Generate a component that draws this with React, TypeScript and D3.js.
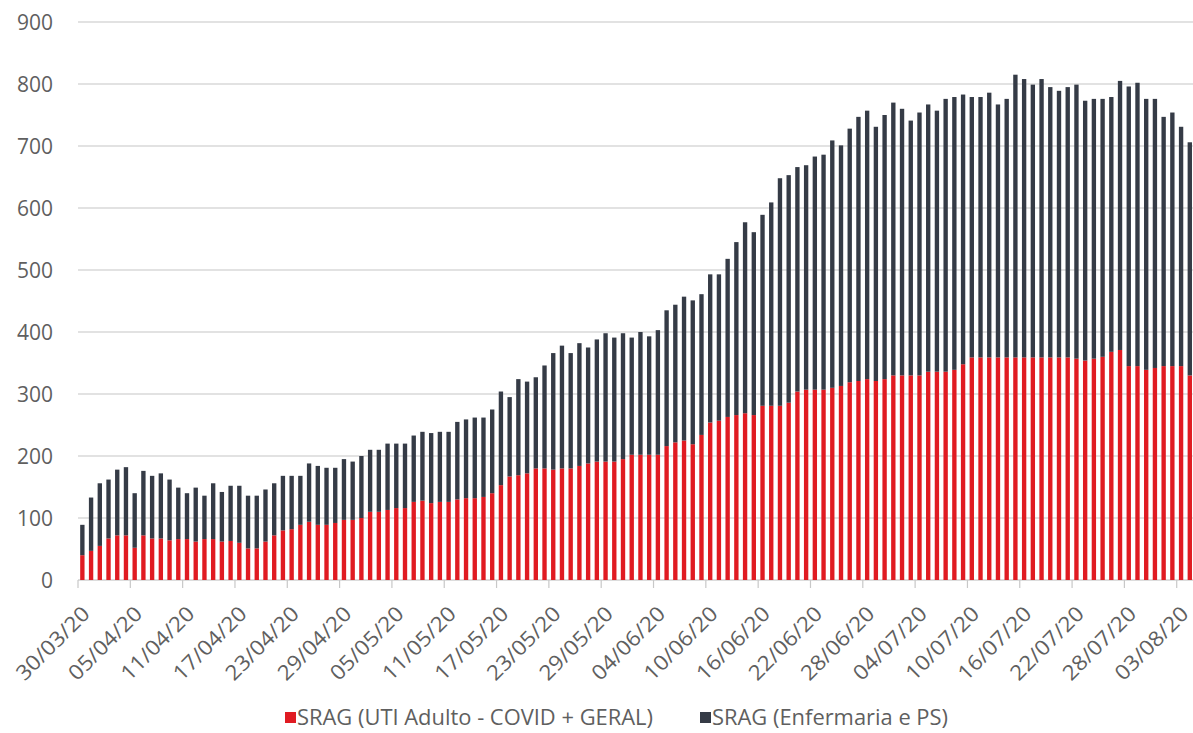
import React from "react";
import * as d3 from "d3";

const START_DATE = "2020-03-30";
const N_DAYS = 128;

const tickLabels = [
  "30/03/20", "05/04/20", "11/04/20", "17/04/20", "23/04/20", "29/04/20", "05/05/20",
  "11/05/20", "17/05/20", "23/05/20", "29/05/20", "04/06/20", "10/06/20", "16/06/20",
  "22/06/20", "28/06/20", "04/07/20", "10/07/20", "16/07/20", "22/07/20", "28/07/20", "03/08/20",
];

const yTicks = [0, 100, 200, 300, 400, 500, 600, 700, 800, 900];

// SRAG (UTI Adulto - COVID + GERAL)
const utiAdulto = [
  40, 47, 55, 67, 72, 72, 52, 72, 67, 67, 64, 66, 66, 62, 66, 66, 62, 63, 60, 51,
  51, 62, 72, 80, 82, 89, 94, 89, 89, 92, 97, 97, 100, 110, 110, 113, 116, 116, 126, 128,
  124, 126, 126, 130, 132, 132, 134, 140, 153, 167, 169, 172, 180, 180, 178, 180, 180, 184, 188, 191,
  191, 191, 195, 202, 202, 202, 202, 216, 222, 225, 219, 234, 254, 257, 263, 266, 269, 266, 281, 281,
  281, 286, 304, 307, 307, 307, 310, 313, 319, 321, 324, 321, 324, 330, 330, 330, 330, 336, 336, 336,
  339, 348, 359, 359, 359, 359, 359, 359, 359, 359, 359, 359, 359, 359, 357, 354, 357, 360, 368, 371,
  345, 345, 339, 342, 345, 345, 345, 330,
];

// SRAG (Enfermaria e PS)
const enfermariaPS = [
  49, 86, 101, 95, 106, 110, 88, 104, 101, 105, 98, 83, 74, 87, 70, 90, 80, 89, 92, 85,
  85, 84, 84, 88, 86, 79, 94, 95, 92, 89, 98, 94, 100, 100, 100, 107, 104, 104, 107, 111,
  113, 113, 113, 125, 127, 130, 128, 135, 151, 128, 155, 148, 147, 166, 188, 198, 186, 198, 187, 197,
  207, 200, 203, 189, 198, 191, 201, 219, 222, 232, 232, 227, 239, 236, 255, 279, 308, 295, 308, 328,
  367, 367, 362, 362, 376, 379, 399, 388, 409, 426, 433, 410, 426, 440, 430, 411, 424, 431, 421, 440,
  440, 435, 420, 420, 427, 408, 417, 456, 449, 440, 449, 436, 430, 436, 442, 419, 419, 416, 411, 434,
  451, 457, 437, 434, 402, 409, 386, 376,
];

const seriesNames = ["SRAG (UTI Adulto - COVID + GERAL)", "SRAG (Enfermaria e PS)"];
const colors = ["#e01b22", "#353b46"];

const W = 1193;
const H = 733;
const plotLeft = 78;
const plotRight = 78 + 8.72 * N_DAYS;
const plotTop = 22;
const plotBottom = 580;
const FONT = "'Open Sans', 'Noto Sans', sans-serif";
const TEXT = "#5f5f5f";

export default function App() {
  const start = d3.timeParse("%Y-%m-%d")(START_DATE) as Date;
  const dates = d3.timeDay.range(start, d3.timeDay.offset(start, N_DAYS));
  const fmt = d3.timeFormat("%d/%m/%y");
  const cats = dates.map((d) => fmt(d));

  const x = d3
    .scaleBand<string>()
    .domain(cats)
    .range([plotLeft, plotRight])
    .paddingInner(0.5)
    .paddingOuter(0.25);
  const y = d3.scaleLinear().domain([0, 900]).range([plotBottom, plotTop]);

  const step = x.step();
  const bw = x.bandwidth();
  const catLeft = (c: string) => (x(c) as number) - (step - bw) / 2;

  const stack = d3
    .stack<number>()
    .keys(["uti", "enf"])
    .value((i, key) => (key === "uti" ? utiAdulto[i] : enfermariaPS[i]));
  const layers = stack(d3.range(N_DAYS));

  return (
    <svg
      width={W}
      height={H}
      style={{ position: "absolute", left: 0, top: 0, background: "#ffffff" }}
      fontFamily={FONT}
    >
      <rect x={0} y={0} width={W} height={H} fill="#ffffff" />
      {yTicks.map((t) => (
        <line
          key={"g" + t}
          x1={plotLeft}
          x2={W}
          y1={y(t)}
          y2={y(t)}
          stroke={t === 0 ? "#d0d0d0" : "#d9d9d9"}
          strokeWidth={1.3}
        />
      ))}
      {yTicks.map((t) => (
        <text
          key={"yl" + t}
          x={53}
          y={y(t)}
          dy="0.36em"
          textAnchor="end"
          fontSize={21}
          fill={TEXT}
        >
          {t}
        </text>
      ))}
      {layers.map((layer, li) =>
        layer.map((d, i) => (
          <rect
            key={li + "-" + i}
            x={x(cats[i])}
            width={bw}
            y={y(d[1])}
            height={y(d[0]) - y(d[1])}
            fill={colors[li]}
          />
        ))
      )}
      {tickLabels.map((lab) => {
        const idx = cats.indexOf(lab);
        const tx = catLeft(cats[idx]);
        return (
          <g key={"xt" + lab}>
            <line x1={tx} x2={tx} y1={plotBottom} y2={plotBottom + 8} stroke="#c8c8c8" strokeWidth={1.2} />
            <text
              transform={`translate(${tx + 8},${plotBottom + 30}) rotate(-45)`}
              textAnchor="end"
              dy="0.35em"
              fontSize={21}
              textLength={94}
              lengthAdjust="spacingAndGlyphs"
              fill={TEXT}
            >
              {lab}
            </text>
          </g>
        );
      })}
      <g>
        <rect x={285} y={712} width={11} height={11} fill={colors[0]} />
        <text
          x={297}
          y={718}
          dy="0.35em"
          fontSize={21}
          textLength={356}
          lengthAdjust="spacingAndGlyphs"
          fill={TEXT}
        >
          {seriesNames[0]}
        </text>
        <rect x={700} y={712} width={11} height={11} fill={colors[1]} />
        <text
          x={712}
          y={718}
          dy="0.35em"
          fontSize={21}
          textLength={236}
          lengthAdjust="spacingAndGlyphs"
          fill={TEXT}
        >
          {seriesNames[1]}
        </text>
      </g>
    </svg>
  );
}
